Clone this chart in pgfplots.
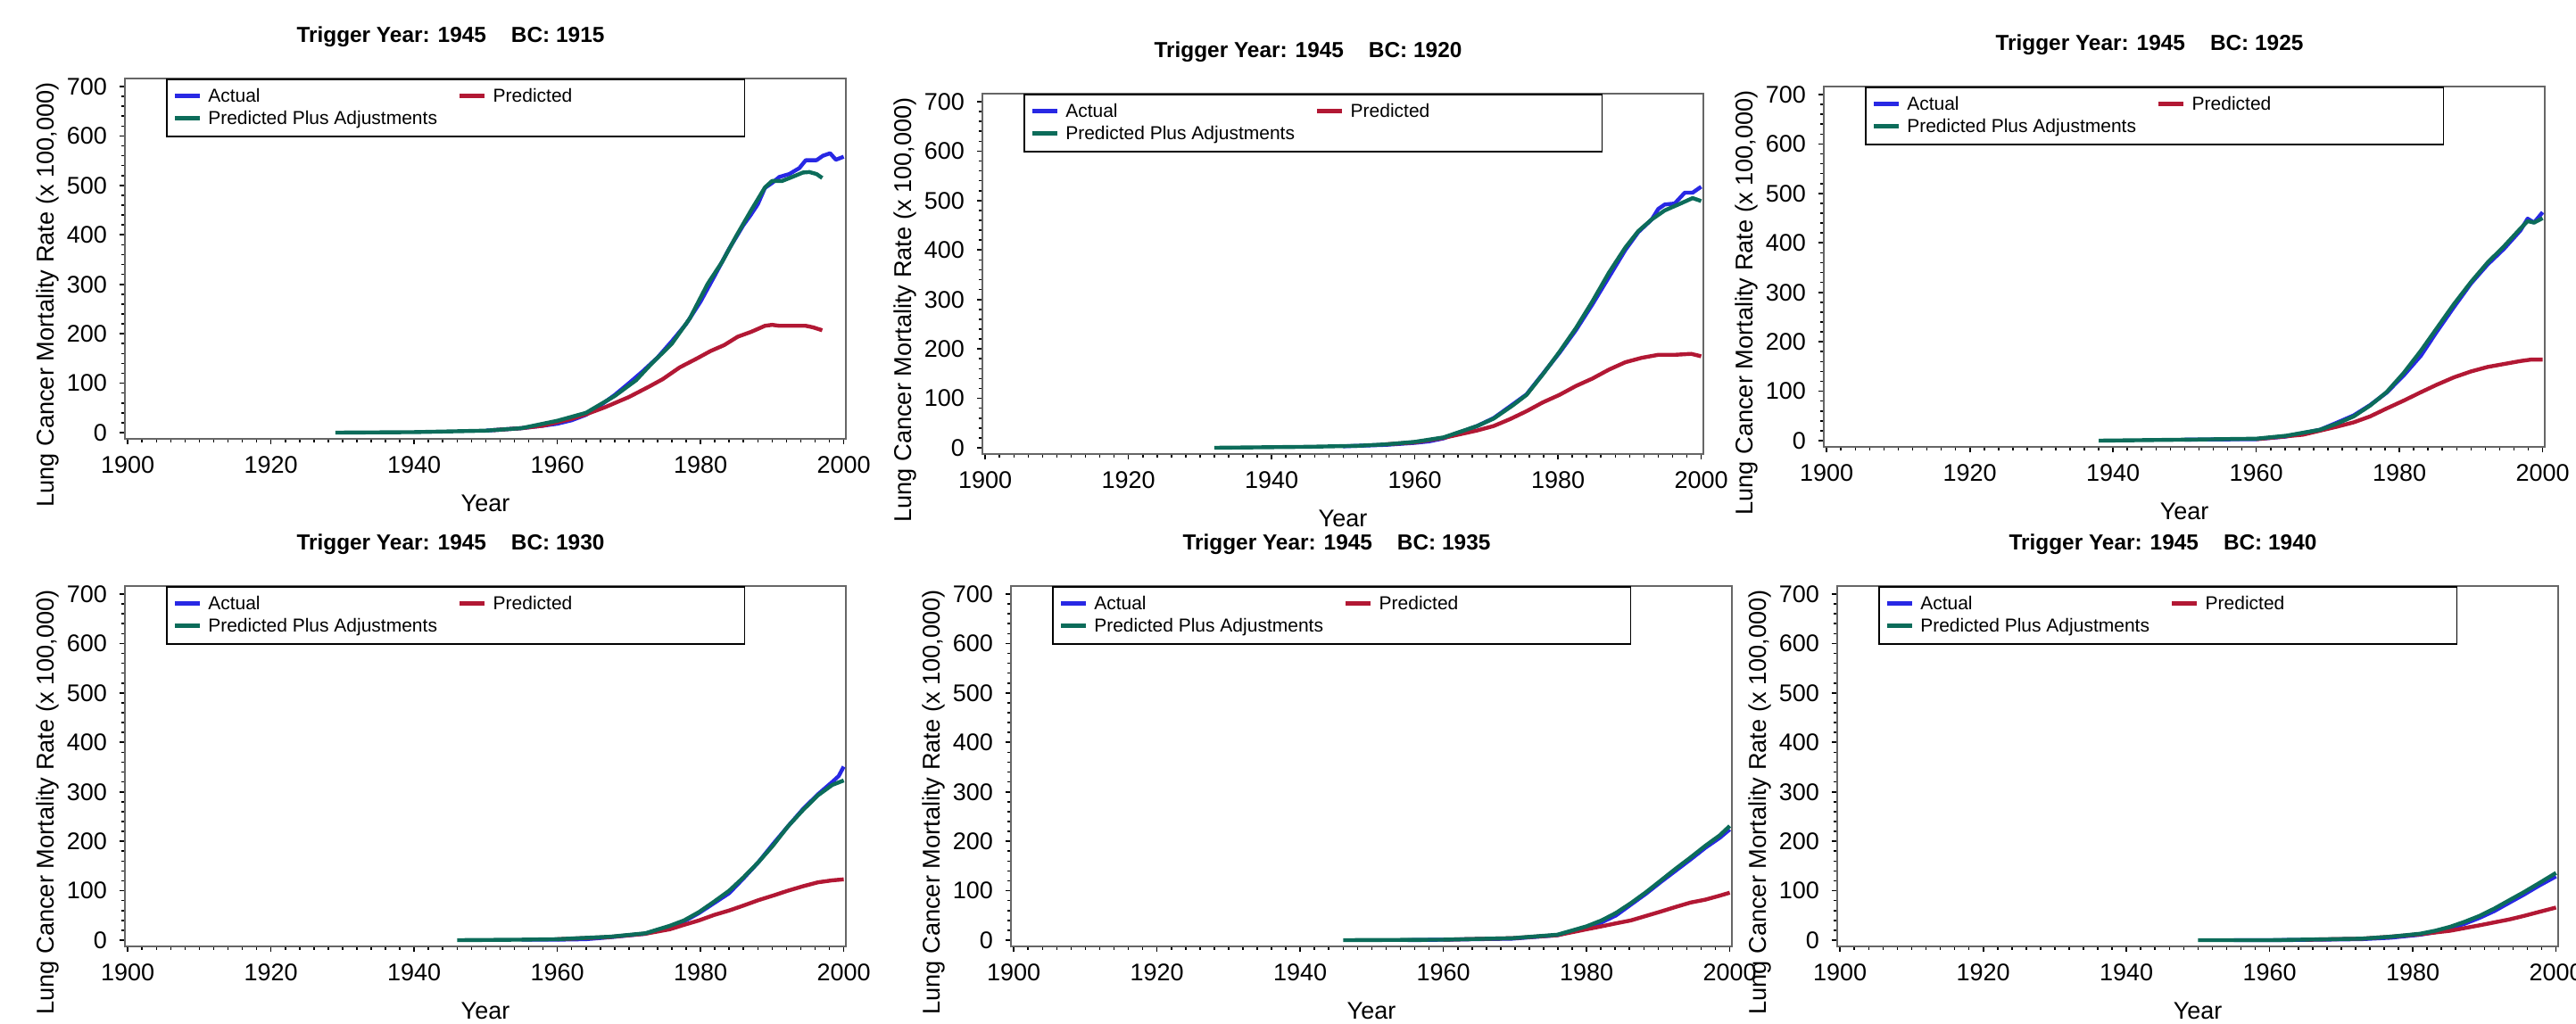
\documentclass[border=0pt]{standalone}
\usepackage{fontspec}
\setmainfont{Liberation Sans}
\usepackage{pgfplots}
\pgfplotsset{compat=1.18}
\definecolor{cAct}{RGB}{40,40,228}
\definecolor{cPred}{RGB}{178,24,52}
\definecolor{cAdj}{RGB}{12,108,90}
\newcommand{\lstrut}{\rule[-1.75bp]{0pt}{6.5bp}}
\newcommand{\LA}{\hspace{1.75bp}\makebox[70bp][l]{\lstrut Actual}}
\newcommand{\LP}{\hspace{1.75bp}\makebox[68.75bp][l]{\lstrut Predicted}}
\newcommand{\LPA}{\hspace{1.75bp}\makebox[70bp][l]{\lstrut Predicted Plus Adjustments}}
\newcommand{\ttl}[1]{Trigger Year: 1945\hspace{7bp}BC: #1}
\pgfplotsset{
  panel/.style={
    scale only axis, width=202bp, height=101bp, anchor=south west,
    xmin=1899.6, xmax=2000.3, ymin=-12.6, ymax=716.2,
    xtick={1900,1920,...,2000}, minor x tick num=9,
    ytick={0,100,...,700}, minor y tick num=4,
    tick pos=left,
    tick align=outside, major tick length=1.5bp, minor tick length=0.9bp,
    axis line style={black!60, line width=0.5bp},
    every tick/.style={black, line width=0.4bp},
    tick label style={font=\fontsize{6.75bp}{8bp}\selectfont},
    /pgf/number format/1000 sep={}, /pgf/number format/assume math mode=true,
    scaled ticks=false,
    xlabel={Year}, ylabel={Lung Cancer Mortality Rate (x 100,000)},
    xlabel style={at={(axis description cs:0.5,0)}, anchor=center, yshift=-18bp, font=\fontsize{6.75bp}{8bp}\selectfont},
    ylabel style={at={(axis description cs:-0.1077,0.40)}, anchor=center, font=\fontsize{6.8bp}{8bp}\selectfont},
    every axis title shift=0pt,
    title style={at={(axis description cs:0.4517,1.116)}, anchor=center, font=\bfseries\fontsize{6.1bp}{7bp}\selectfont},
    legend style={at={(axis description cs:0.057,1)}, anchor=north west, draw=black, line width=0.4bp,
      inner xsep=1.75bp, inner ysep=1.75bp, fill=white, column sep=0pt, row sep=0pt,
      nodes={inner sep=0pt, anchor=base west},
      /tikz/every even column/.style={column sep=0pt},
      /tikz/every odd column/.style={column sep=0pt},
      font=\fontsize{5.25bp}{6bp}\selectfont},
    legend columns=2, legend cell align=left,
    legend image code/.code={\draw[#1] (0bp,1.8bp) -- (7bp,1.8bp);},
  },
  act/.style={cAct, line width=1.1bp, line join=round},
  pred/.style={cPred, line width=1.1bp, line join=round},
  adj/.style={cAdj, line width=1.1bp, line join=round},
}
\begin{document}
\begin{tikzpicture}
\path[use as bounding box] (0bp,0bp) rectangle (721.75bp,287bp);
% ---------- Panel 1: BC 1915
\begin{axis}[panel, at={(35bp,164bp)}, title={\ttl{1915}}]
\addplot[act] coordinates {(1950,4) (1955,9) (1958,14) (1960,18) (1962,25) (1964,36) (1966,55) (1968,76) (1970,100) (1972,125) (1974,152) (1976,185) (1978,220) (1980,265) (1982,318) (1984,372) (1986,420) (1987,440) (1988,462) (1989,495) (1990,505) (1991,517) (1992.4,523) (1993.8,535) (1994.7,551) (1996.2,551) (1997.1,560) (1998.1,565) (1998.9,552) (2000,558)};
\addlegendentry{\LA}
\addplot[pred] coordinates {(1951,5) (1955,9) (1958,14) (1960,21) (1962,28) (1964,37) (1966.6,51) (1970,72) (1972.8,93) (1974.7,108) (1977.1,132) (1979.5,150) (1981.4,165) (1983.3,177) (1985.2,194) (1987.1,204) (1989,216) (1990,218) (1991,216) (1994.7,216) (1995.7,213) (1997,207)};
\addlegendentry{\LP}
\addplot[adj] coordinates {(1929,0) (1940,1) (1950,4) (1955,9) (1960,24) (1964,40) (1968,74) (1971,106) (1973,137) (1976,180) (1978.5,231) (1981,301) (1983,345) (1985,398) (1987,448) (1989,496) (1990,509) (1991.4,509) (1992.8,517) (1994.3,526) (1995.2,527) (1996.2,523) (1997,515)};
\addlegendentry{\LPA}
\end{axis}
% ---------- Panel 2: BC 1920
\begin{axis}[panel, at={(275.25bp,159.75bp)}, title={\ttl{1920}}]
\addplot[act] coordinates {(1950,3) (1956,6) (1960,10) (1962,13) (1964,19) (1968.7,44) (1971,60) (1973.7,88) (1975.6,108) (1977.9,150) (1980.2,192) (1982.5,238) (1984.8,290) (1987.1,345) (1989.4,400) (1991.2,436) (1993.1,462) (1994,483) (1994.9,492) (1996.3,494) (1997.7,516) (1998.8,516) (2000,528)};
\addlegendentry{\LA}
\addplot[pred] coordinates {(1956,7) (1960,11) (1964,20) (1968.7,35) (1971,44) (1973.3,58) (1975.6,74) (1977.9,92) (1980.2,107) (1982.5,125) (1984.8,140) (1987.1,158) (1989.4,173) (1991.7,182) (1994,188) (1996.3,188) (1998.6,190) (2000,185)};
\addlegendentry{\LP}
\addplot[adj] coordinates {(1932,0) (1945,2) (1952,4) (1956,7) (1960,12) (1964,21) (1968.7,44) (1971,59) (1973.7,86) (1975.6,107) (1977.9,149) (1980.2,194) (1982.5,242) (1984.8,296) (1987.1,354) (1989.4,405) (1991.2,438) (1993.1,462) (1994.9,480) (1996.8,492) (1998.8,505) (2000,499)};
\addlegendentry{\LPA}
\end{axis}
% ---------- Panel 3: BC 1925
\begin{axis}[panel, at={(511bp,161.75bp)}, title={\ttl{1925}}]
\addplot[act] coordinates {(1950,2) (1960,3) (1964,8) (1968.9,22) (1971.2,36) (1973.6,51) (1975.9,72) (1978.2,97) (1980.6,132) (1983,172) (1985.2,220) (1987.6,270) (1990,318) (1992.3,356) (1994.6,388) (1996.9,425) (1997.9,449) (1998.8,441) (2000,462)};
\addlegendentry{\LA}
\addplot[pred] coordinates {(1960,3) (1966.5,12) (1971.2,28) (1973.6,37) (1975.9,49) (1978.2,65) (1980.6,81) (1983,98) (1985.2,113) (1987.6,128) (1990,140) (1992.3,149) (1994.6,155) (1996.9,161) (1998.4,164) (2000,164)};
\addlegendentry{\LP}
\addplot[adj] coordinates {(1938,0) (1950,2) (1960,4) (1964.2,10) (1968.9,22) (1971.2,34) (1973.6,49) (1975.9,71) (1978.2,98) (1980.6,137) (1983,182) (1985.2,227) (1987.6,276) (1990,321) (1992.3,360) (1994.6,393) (1996.9,429) (1997.9,444) (1998.8,441) (2000,450)};
\addlegendentry{\LPA}
\end{axis}
% ---------- Panel 4: BC 1930
\begin{axis}[panel, at={(35bp,21.75bp)}, title={\ttl{1930}}]
\addplot[act] coordinates {(1955,1) (1960,1) (1964,2) (1967.4,6) (1972.3,13) (1975.7,28) (1977.7,38) (1979.8,55) (1981.9,75) (1984,95) (1986,125) (1988.1,158) (1990.1,194) (1992.2,230) (1994.3,265) (1996.4,295) (1998.4,320) (1999.3,332) (2000,351)};
\addlegendentry{\LA}
\addplot[pred] coordinates {(1960,2) (1967,6) (1972.3,13) (1975.7,22) (1977.7,31) (1979.8,40) (1981.9,51) (1984,60) (1986,70) (1988.1,81) (1990.1,90) (1992.2,100) (1994.3,109) (1996.4,117) (1998.4,121) (2000,123)};
\addlegendentry{\LP}
\addplot[adj] coordinates {(1946,0) (1955,1) (1960,2) (1967.4,7) (1972.3,14) (1975.7,29) (1977.7,40) (1979.8,57) (1981.9,78) (1984,100) (1986,127) (1988.1,158) (1990.1,191) (1992.2,230) (1994.3,263) (1996.4,293) (1998.4,314) (2000,323)};
\addlegendentry{\LPA}
\end{axis}
% ---------- Panel 5: BC 1935
\begin{axis}[panel, at={(283.25bp,21.75bp)}, title={\ttl{1935}}]
\addplot[act] coordinates {(1955,0) (1960,1) (1969.6,3) (1975.9,10) (1980,25) (1982.1,36) (1984.1,50) (1986.2,72) (1988.3,94) (1990.4,118) (1992.4,140) (1994.5,163) (1996.6,187) (1998.6,207) (2000,224)};
\addlegendentry{\LA}
\addplot[pred] coordinates {(1960,1) (1969.6,4) (1975.9,10) (1980,22) (1982.1,28) (1984.1,34) (1986.2,40) (1988.3,49) (1990.4,58) (1992.4,67) (1994.5,76) (1996.6,82) (1998.6,90) (2000,96)};
\addlegendentry{\LP}
\addplot[adj] coordinates {(1946,0) (1960,1) (1969.6,4) (1975.9,11) (1980,28) (1982.1,40) (1984.1,55) (1986.2,75) (1988.3,97) (1990.4,121) (1992.4,144) (1994.5,167) (1996.6,191) (1998.6,212) (2000,231)};
\addlegendentry{\LPA}
\end{axis}
% ---------- Panel 6: BC 1940
\begin{axis}[panel, at={(514.75bp,21.75bp)}, title={\ttl{1940}}]
\addplot[act] coordinates {(1955,0) (1961,0) (1972.8,2) (1976.9,5) (1981,11) (1983.1,16) (1985.2,24) (1987.2,33) (1989.3,45) (1991.4,59) (1993.5,76) (1995.5,92) (1997.6,110) (2000,129)};
\addlegendentry{\LA}
\addplot[pred] coordinates {(1965,1) (1972.8,3) (1976.9,7) (1981,12) (1985.2,19) (1989.3,30) (1991.4,36) (1993.5,42) (1995.5,49) (1997.6,57) (2000,66)};
\addlegendentry{\LP}
\addplot[adj] coordinates {(1950,0) (1960,0) (1972.8,3) (1976.9,7) (1981,13) (1983.1,19) (1985.2,27) (1987.2,37) (1989.3,49) (1991.4,64) (1993.5,81) (1995.5,97) (1997.6,115) (2000,136)};
\addlegendentry{\LPA}
\end{axis}
\end{tikzpicture}
\end{document}
